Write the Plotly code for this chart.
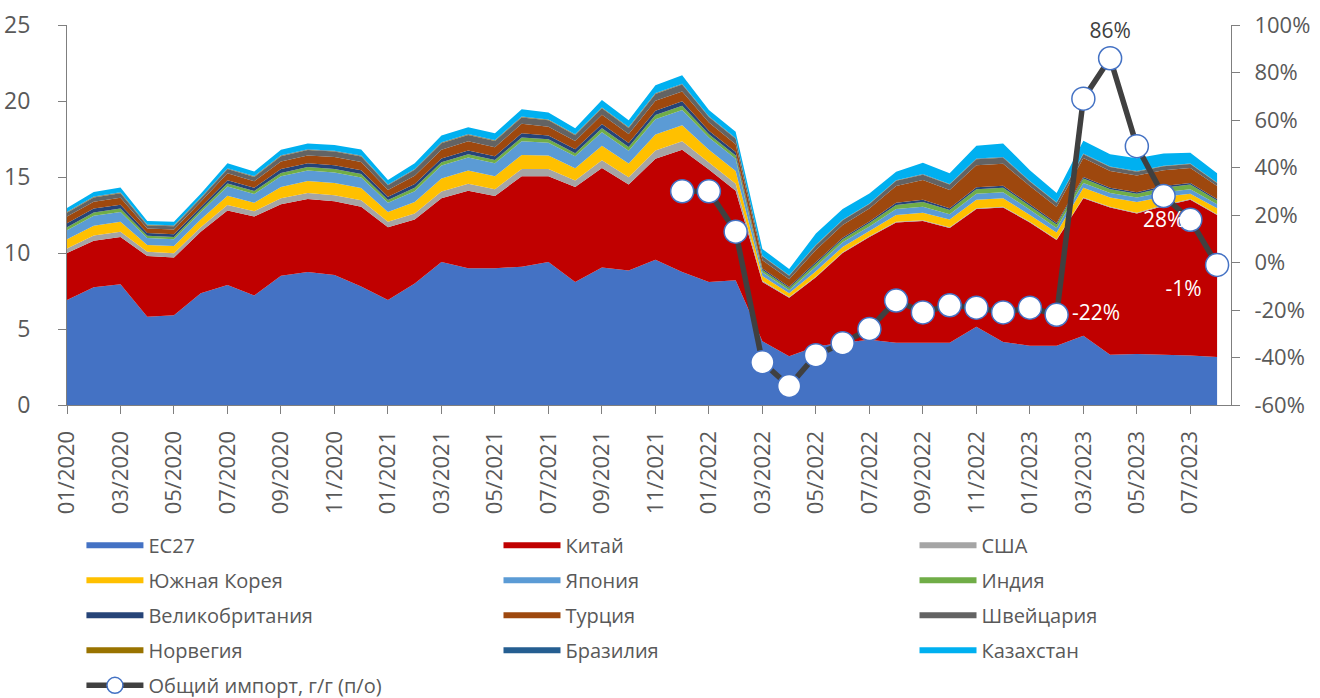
import plotly.graph_objects as go

months = ["01/2020","02/2020","03/2020","04/2020","05/2020","06/2020","07/2020","08/2020","09/2020","10/2020","11/2020","12/2020",
          "01/2021","02/2021","03/2021","04/2021","05/2021","06/2021","07/2021","08/2021","09/2021","10/2021","11/2021","12/2021",
          "01/2022","02/2022","03/2022","04/2022","05/2022","06/2022","07/2022","08/2022","09/2022","10/2022","11/2022","12/2022",
          "01/2023","02/2023","03/2023","04/2023","05/2023","06/2023","07/2023","08/2023"]
tick_labels = months[::2]
y2_ticks = [-60, -40, -20, 0, 20, 40, 60, 80, 100]
y2_ticktext = ["-60%", "-40%", "-20%", "0%", "20%", "40%", "60%", "80%", "100%"]

eu27 = [6.9, 7.75, 7.95, 5.8, 5.9, 7.35, 7.9, 7.2, 8.5, 8.75, 8.55, 7.8, 6.9, 8.0, 9.4, 9.0, 9.0, 9.1, 9.4, 8.1, 9.05, 8.85,
        9.55, 8.75, 8.1, 8.2, 4.2, 3.2, 3.85, 4.1, 4.3, 4.1, 4.1, 4.1, 5.15, 4.15, 3.9, 3.9, 4.55, 3.3, 3.35, 3.3, 3.25, 3.15]
china = [3.1, 3.05, 3.1, 4.0, 3.8, 4.05, 4.9, 5.2, 4.7, 4.8, 4.85, 5.25, 4.8, 4.2, 4.2, 5.1, 4.75, 5.95, 5.65, 6.25, 6.55, 5.65,
         6.65, 8.05, 7.4, 5.9, 3.9, 3.85, 4.55, 5.9, 6.75, 7.9, 8.0, 7.55, 7.75, 8.85, 8.1, 6.95, 9.05, 9.7, 9.25, 9.8, 10.25, 9.35]
usa = [.30, .35, .35, .28, .28, .30, .35, .35, .40, .40, .40, .42, .35, .40, .45, .45, .45, .48, .48, .42, .50, .48, .55, .55, .45, .45,
       .08, .05, .05, .05, .05, .05, .05, .05, .05, .05, .05, .05, .05, .05, .05, .05, .05, .05]
korea = [.60, .65, .65, .45, .48, .50, .62, .55, .75, .78, .80, .80, .65, .75, .85, .88, .85, .92, .88, .80, .95, .90, 1.05, 1.05, .85, .85,
         .30, .25, .35, .35, .35, .45, .50, .50, .55, .55, .45, .45, .65, .60, .70, .55, .35, .40]
japan = [.60, .65, .65, .45, .45, .48, .60, .58, .70, .70, .70, .70, .60, .72, .85, .85, .85, .90, .85, .80, .90, .85, 1.00, 1.00, .80, .80,
         .25, .20, .30, .30, .30, .40, .40, .35, .40, .40, .35, .30, .30, .30, .30, .30, .30, .25]
india = [.20, .22, .22, .15, .15, .16, .20, .20, .22, .22, .22, .22, .18, .22, .22, .22, .22, .25, .22, .20, .25, .25, .28, .28, .22, .22,
         .15, .15, .20, .20, .22, .25, .30, .28, .30, .30, .25, .22, .30, .25, .25, .30, .30, .25]
uk = [.25, .25, .26, .18, .18, .18, .22, .22, .25, .25, .25, .25, .22, .25, .25, .25, .25, .28, .25, .25, .28, .25, .28, .30, .22, .22,
      .10, .08, .10, .10, .10, .15, .15, .12, .12, .12, .10, .10, .10, .10, .10, .10, .10, .10]
turkey = [.45, .45, .45, .30, .30, .35, .45, .42, .50, .52, .55, .55, .45, .55, .58, .60, .58, .62, .58, .55, .62, .60, .65, .65, .55, .52,
          .55, .50, .80, .85, .85, 1.10, 1.30, 1.20, 1.45, 1.45, 1.20, 1.05, 1.25, 1.10, 1.10, 1.05, 1.00, .85]
swiss = [.25, .28, .30, .20, .22, .22, .28, .28, .35, .35, .35, .36, .30, .38, .42, .42, .42, .42, .42, .38, .42, .40, .45, .45, .35, .35,
         .25, .22, .30, .30, .30, .35, .35, .35, .40, .40, .30, .28, .25, .25, .25, .25, .25, .20]
norway = [.03, .03, .03, .03, .03, .03, .03, .03, .03, .03, .03, .03, .03, .03, .03, .03, .03, .03, .03, .03, .03, .03, .03, .03, .03, .03,
          .02, .02, .02, .02, .02, .02, .02, .02, .02, .02, .02, .02, .02, .02, .02, .02, .02, .02]
brazil = [.03, .03, .03, .03, .03, .03, .03, .03, .03, .03, .03, .03, .03, .03, .03, .03, .03, .03, .03, .03, .03, .03, .03, .03, .03, .03,
          .02, .02, .02, .02, .02, .02, .02, .02, .02, .02, .02, .02, .02, .02, .02, .02, .02, .02]
kazakhstan = [.25, .30, .32, .23, .24, .25, .32, .30, .37, .37, .37, .40, .30, .37, .45, .45, .45, .48, .45, .40, .48, .45, .52, .55, .40, .40,
              .45, .40, .75, .70, .65, .56, .75, .70, .85, .90, .70, .60, .85, .80, .85, .80, .70, .60]

total_yoy = [None] * 23 + [30, 30, 13, -42, -52, -39, -34, -28, -16, -21, -18, -19, -21, -19, -22, 69, 86, 49, 28, 18, -1]
yoy_labels = {37: "-22%", 39: "86%", 41: "28%", 43: "-1%"}

# (name, values, colour, legend column)
series = [
    ("ЕС27", eu27, "#4472C4", "legend"),
    ("Китай", china, "#C00000", "legend2"),
    ("США", usa, "#A5A5A5", "legend3"),
    ("Южная Корея", korea, "#FFC000", "legend"),
    ("Япония", japan, "#5B9BD5", "legend2"),
    ("Индия", india, "#70AD47", "legend3"),
    ("Великобритания", uk, "#264478", "legend"),
    ("Турция", turkey, "#9E480E", "legend2"),
    ("Швейцария", swiss, "#636363", "legend3"),
    ("Норвегия", norway, "#997300", "legend"),
    ("Бразилия", brazil, "#255E91", "legend2"),
    ("Казахстан", kazakhstan, "#00B0F0", "legend3"),
]

FONT = "Open Sans"
GREY = "#595959"

fig = go.Figure()
for name, vals, col, lg in series:
    fig.add_trace(go.Scatter(x=months, y=vals, name=name, stackgroup="one", mode="none",
                             fillcolor=col, line=dict(width=0), legend=lg, legendgroup=name))

txt = [yoy_labels.get(i, "") for i in range(len(months))]
pos, tcol = [], []
for i in range(len(months)):
    if i == 39:
        pos.append("top center"); tcol.append("#404040")
    elif i == 37:
        pos.append("middle right"); tcol.append("white")
    elif i == 41:
        pos.append("bottom center"); tcol.append("white")
    else:
        pos.append("bottom left"); tcol.append("white")

fig.add_trace(go.Scatter(x=months, y=total_yoy, name="Общий импорт, г/г (п/о)", yaxis="y2",
                         mode="lines+markers+text", text=txt, textposition=pos,
                         textfont=dict(color=tcol, size=21, family=FONT),
                         line=dict(color="#404040", width=5.5),
                         marker=dict(size=23, color="white", line=dict(color="#4472C4", width=1.5)),
                         connectgaps=False, cliponaxis=False, legend="legend", legendgroup="yoy"))

leg_common = dict(orientation="v", y=-0.318, yanchor="top", xanchor="left",
                  font=dict(size=20, color=GREY, family=FONT), itemwidth=57,
                  tracegroupgap=6, bgcolor="rgba(0,0,0,0)")

fig.update_layout(
    width=1320, height=698,
    margin=dict(l=67, r=89, t=25, b=293, autoexpand=False),
    plot_bgcolor="white", paper_bgcolor="white",
    font=dict(family=FONT, color=GREY, size=21),
    showlegend=True,
    legend=dict(x=0.0124, **leg_common),
    legend2=dict(x=0.3707, **leg_common),
    legend3=dict(x=0.7281, **leg_common),
    xaxis=dict(type="category", categoryorder="array", categoryarray=months,
               range=[0, 43.52], tickmode="array", tickvals=tick_labels, ticktext=tick_labels,
               tickangle=-90, ticks="outside", ticklen=8, tickcolor="#7F7F7F", automargin=False,
               ticklabelstandoff=8,
               showline=True, linecolor="#7F7F7F", linewidth=1, showgrid=False, zeroline=False,
               tickfont=dict(size=22, color=GREY, family=FONT)),
    yaxis=dict(range=[0, 25], dtick=5, ticks="outside", ticklen=8, tickcolor="#7F7F7F", automargin=False,
               showline=True, linecolor="#7F7F7F", linewidth=1, showgrid=False, zeroline=False,
               ticklabelstandoff=23, tickfont=dict(size=23, color=GREY, family=FONT)),
    yaxis2=dict(range=[-60, 100], tickmode="array", tickvals=y2_ticks, ticktext=y2_ticktext,
                overlaying="y", side="right", automargin=False,
                ticks="outside", ticklen=8, tickcolor="#7F7F7F",
                showline=True, linecolor="#7F7F7F", linewidth=1, showgrid=False, zeroline=False,
                ticklabelstandoff=10, tickfont=dict(size=22, color=GREY, family=FONT)),
)

fig.write_html("out.html", config={"displayModeBar": False},
               post_script="document.body.style.margin='0px';document.body.style.overflow='hidden';")
